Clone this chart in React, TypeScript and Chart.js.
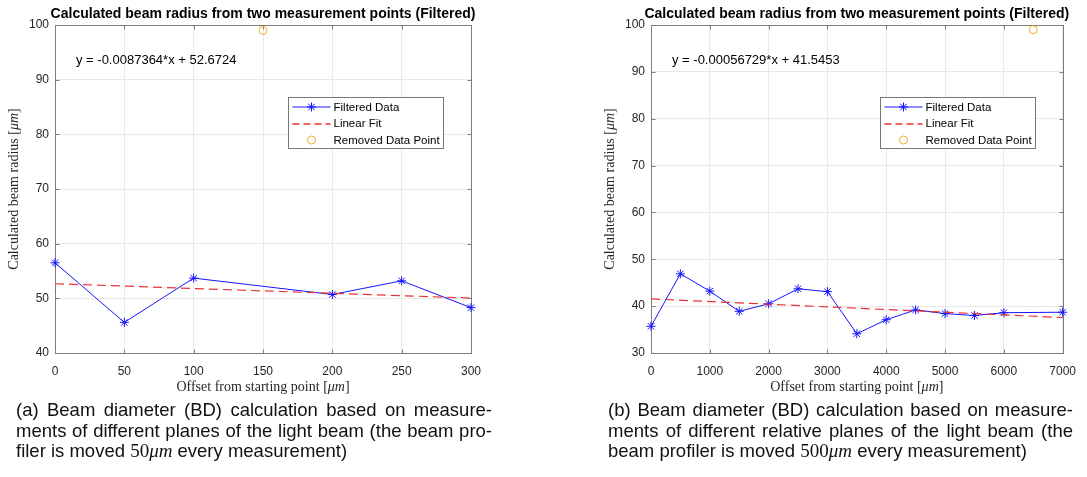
import React, { useEffect, useRef } from 'react';
import { Chart, registerables } from 'chart.js';

Chart.register(...registerables);

// ---------- data ----------
const offsetsA = [0, 50, 100, 200, 250, 300];
const radiusA = [56.5, 45.6, 53.7, 50.7, 53.2, 48.3];
const fitOffsetsA = [0, 300];
const fitRadiusA = [52.67, 50.05];
const removedOffsetsA = [150];
const removedRadiusA = [99];
const xTicksA = [0, 50, 100, 150, 200, 250, 300];
const yTicksA = [40, 50, 60, 70, 80, 90, 100];
const equationA = 'y = -0.0087364*x + 52.6724';

const offsetsB = [0, 500, 1000, 1500, 2000, 2500, 3000, 3500, 4000, 4500, 5000, 5500, 6000, 7000];
const radiusB = [35.7, 46.9, 43.2, 38.9, 40.5, 43.7, 43.1, 34.1, 37.1, 39.2, 38.4, 38.0, 38.6, 38.7];
const fitOffsetsB = [0, 7000];
const fitRadiusB = [41.55, 37.57];
const removedOffsetsB = [6500];
const removedRadiusB = [99];
const xTicksB = [0, 1000, 2000, 3000, 4000, 5000, 6000, 7000];
const yTicksB = [30, 40, 50, 60, 70, 80, 90, 100];
const equationB = 'y = -0.00056729*x + 41.5453';

const titleText = 'Calculated beam radius from two measurement points (Filtered)';
const xLabelText = 'Offset from starting point';
const yLabelText = 'Calculated beam radius';
const unitText = 'μm';
const legendLabels = ['Filtered Data', 'Linear Fit', 'Removed Data Point'];

// ---------- styles ----------
const SANS = '"Liberation Sans", Arial, sans-serif';
const SERIF = '"Liberation Serif", "Times New Roman", serif';
const BLUE = 'rgb(20,20,255)';
const RED = 'rgb(235,50,50)';
const ORANGE = '#EDB120';
const GRID = '#e9e9e9';
const AXIS = '#7d7d7d';
const TICK = '#262626';

type Panel = {
  offsets: number[];
  radius: number[];
  fitOffsets: number[];
  fitRadius: number[];
  removedOffsets: number[];
  removedRadius: number[];
  xTicks: number[];
  yTicks: number[];
  equation: string;
  yAxisWidth: number;
  padRight: number;
};

function drawStar(ctx: CanvasRenderingContext2D, x: number, y: number, r: number) {
  ctx.beginPath();
  for (let k = 0; k < 4; k++) {
    const ang = (k * Math.PI) / 4;
    const dx = Math.cos(ang) * r;
    const dy = Math.sin(ang) * r;
    ctx.moveTo(x - dx, y - dy);
    ctx.lineTo(x + dx, y + dy);
  }
  ctx.stroke();
}

function drawUnitLabel(ctx: CanvasRenderingContext2D, main: string, cx: number, cy: number) {
  const size = 14;
  const parts = [
    { t: main + ' [', f: `${size}px ${SERIF}` },
    { t: unitText, f: `italic ${size}px ${SERIF}` },
    { t: ']', f: `${size}px ${SERIF}` },
  ];
  let total = 0;
  const widths = parts.map((p) => {
    ctx.font = p.f;
    const w = ctx.measureText(p.t).width;
    total += w;
    return w;
  });
  let x = cx - total / 2;
  ctx.textAlign = 'left';
  ctx.textBaseline = 'middle';
  parts.forEach((p, i) => {
    ctx.font = p.f;
    ctx.fillText(p.t, x, cy);
    x += widths[i];
  });
}

function decorPlugin(p: Panel) {
  return {
    id: 'matlabDecor',
    beforeDatasetsDraw(chart: any) {
      const { ctx, chartArea: a, scales } = chart;
      ctx.save();
      ctx.strokeStyle = AXIS;
      ctx.lineWidth = 1;
      const L = Math.round(a.left) + 0.5;
      const R = Math.round(a.right) + 0.5;
      const T = Math.round(a.top) + 0.5;
      const B = Math.round(a.bottom) + 0.5;
      ctx.strokeRect(L, T, R - L, B - T);
      ctx.beginPath();
      p.xTicks.forEach((v) => {
        const px = Math.round(scales.x.getPixelForValue(v)) + 0.5;
        ctx.moveTo(px, B);
        ctx.lineTo(px, B - 4);
        ctx.moveTo(px, T);
        ctx.lineTo(px, T + 4);
      });
      p.yTicks.forEach((v) => {
        const py = Math.round(scales.y.getPixelForValue(v)) + 0.5;
        ctx.moveTo(L, py);
        ctx.lineTo(L + 4, py);
        ctx.moveTo(R, py);
        ctx.lineTo(R - 4, py);
      });
      ctx.stroke();
      ctx.restore();
    },
    afterDatasetsDraw(chart: any) {
      const { ctx, chartArea: a } = chart;
      ctx.save();
      // legend
      const w = 155;
      const h = 51;
      const lx = Math.round(a.right - 28 - w) + 0.5;
      const ly = 97.5;
      ctx.fillStyle = '#ffffff';
      ctx.fillRect(lx, ly, w, h);
      ctx.strokeStyle = '#777777';
      ctx.lineWidth = 1;
      ctx.strokeRect(lx, ly, w, h);
      const rows = [ly + 9.5, ly + 26, ly + 42.5];
      const x1 = lx + 4;
      const x2 = lx + 42;
      const xm = (x1 + x2) / 2;
      // row 1
      ctx.strokeStyle = BLUE;
      ctx.lineWidth = 1;
      ctx.beginPath();
      ctx.moveTo(x1, rows[0]);
      ctx.lineTo(x2, rows[0]);
      ctx.stroke();
      drawStar(ctx, xm, rows[0], 4.5);
      // row 2
      ctx.strokeStyle = RED;
      ctx.lineWidth = 1.4;
      ctx.setLineDash([7, 4]);
      ctx.beginPath();
      ctx.moveTo(x1, Math.round(rows[1]));
      ctx.lineTo(x2, Math.round(rows[1]));
      ctx.stroke();
      ctx.setLineDash([]);
      // row 3
      ctx.strokeStyle = ORANGE;
      ctx.lineWidth = 1;
      ctx.beginPath();
      ctx.arc(xm, rows[2], 4, 0, Math.PI * 2);
      ctx.stroke();
      ctx.fillStyle = '#000000';
      ctx.font = `11.5px ${SANS}`;
      ctx.textAlign = 'left';
      ctx.textBaseline = 'middle';
      legendLabels.forEach((t, i) => ctx.fillText(t, lx + 45, rows[i] + 0.5));
      ctx.restore();
    },
    afterDraw(chart: any) {
      const { ctx, chartArea: a } = chart;
      ctx.save();
      const cx = (a.left + a.right) / 2;
      ctx.fillStyle = '#000000';
      ctx.font = `bold 14px ${SANS}`;
      ctx.textAlign = 'center';
      ctx.textBaseline = 'middle';
      ctx.fillText(titleText, cx, 14);
      // equation
      ctx.font = `13px ${SANS}`;
      ctx.textAlign = 'left';
      ctx.fillText(p.equation, a.left + 21, 60);
      // axis labels
      ctx.fillStyle = TICK;
      drawUnitLabel(ctx, xLabelText, cx, 387);
      ctx.translate(a.left - 41, (a.top + a.bottom) / 2);
      ctx.rotate(-Math.PI / 2);
      drawUnitLabel(ctx, yLabelText, 0, 0);
      ctx.restore();
    },
  };
}

function buildConfig(p: Panel): any {
  return {
    type: 'line',
    data: {
      datasets: [
        {
          label: legendLabels[1],
          data: p.fitOffsets.map((x, i) => ({ x, y: p.fitRadius[i] })),
          borderColor: RED,
          borderWidth: 1.2,
          borderDash: [9, 5],
          pointRadius: 0,
          fill: false,
          clip: false,
        },
        {
          label: legendLabels[0],
          data: p.offsets.map((x, i) => ({ x, y: p.radius[i] })),
          borderColor: BLUE,
          backgroundColor: BLUE,
          borderWidth: 1,
          pointStyle: 'star',
          pointRadius: 4.5,
          pointBorderWidth: 1,
          pointBorderColor: BLUE,
          fill: false,
          tension: 0,
          clip: false,
        },
        {
          label: legendLabels[2],
          data: p.removedOffsets.map((x, i) => ({ x, y: p.removedRadius[i] })),
          showLine: false,
          pointStyle: 'circle',
          pointRadius: 4,
          pointBorderWidth: 1,
          pointBorderColor: ORANGE,
          pointBackgroundColor: 'rgba(0,0,0,0)',
          borderColor: ORANGE,
          backgroundColor: 'rgba(0,0,0,0)',
          clip: false,
        },
      ],
    },
    options: {
      animation: false,
      responsive: false,
      events: [],
      layout: { padding: { left: 0, top: 25, right: p.padRight, bottom: 0 } },
      plugins: {
        legend: { display: false },
        tooltip: { enabled: false },
        title: { display: false },
      },
      scales: {
        x: {
          type: 'linear',
          min: p.xTicks[0],
          max: p.xTicks[p.xTicks.length - 1],
          afterBuildTicks: (s: any) => {
            s.ticks = p.xTicks.map((v) => ({ value: v }));
          },
          afterFit: (s: any) => {
            s.height = 47;
          },
          grid: { color: GRID, drawTicks: false },
          border: { display: false },
          ticks: {
            font: { family: SANS, size: 12 },
            color: TICK,
            padding: 11,
            maxRotation: 0,
            autoSkip: false,
            callback: (v: any) => String(v),
          },
        },
        y: {
          type: 'linear',
          min: p.yTicks[0],
          max: p.yTicks[p.yTicks.length - 1],
          afterBuildTicks: (s: any) => {
            s.ticks = p.yTicks.map((v) => ({ value: v }));
          },
          afterFit: (s: any) => {
            s.width = p.yAxisWidth;
          },
          grid: { color: GRID, drawTicks: false },
          border: { display: false },
          ticks: {
            font: { family: SANS, size: 12 },
            color: TICK,
            padding: 6,
            autoSkip: false,
            callback: (v: any) => String(v),
          },
        },
      },
    },
    plugins: [decorPlugin(p)],
  };
}

const panelA: Panel = {
  offsets: offsetsA,
  radius: radiusA,
  fitOffsets: fitOffsetsA,
  fitRadius: fitRadiusA,
  removedOffsets: removedOffsetsA,
  removedRadius: removedRadiusA,
  xTicks: xTicksA,
  yTicks: yTicksA,
  equation: equationA,
  yAxisWidth: 55,
  padRight: 69,
};

const panelB: Panel = {
  offsets: offsetsB,
  radius: radiusB,
  fitOffsets: fitOffsetsB,
  fitRadius: fitRadiusB,
  removedOffsets: removedOffsetsB,
  removedRadius: removedRadiusB,
  xTicks: xTicksB,
  yTicks: yTicksB,
  equation: equationB,
  yAxisWidth: 111,
  padRight: 19,
};

function ChartCanvas({ panel, left, width }: { panel: Panel; left: number; width: number }) {
  const ref = useRef<HTMLCanvasElement | null>(null);
  useEffect(() => {
    if (!ref.current) return;
    const chart = new Chart(ref.current, buildConfig(panel));
    return () => chart.destroy();
  }, [panel]);
  return (
    <canvas
      ref={ref}
      width={width}
      height={400}
      style={{ position: 'absolute', left, top: 0, width, height: 400 }}
    />
  );
}

const captionStyle: React.CSSProperties = {
  position: 'absolute',
  top: 400,
  fontFamily: SANS,
  fontSize: 18.5,
  lineHeight: '20.5px',
  color: '#111111',
};
const justified: React.CSSProperties = { textAlign: 'justify', textAlignLast: 'justify', whiteSpace: 'nowrap' };
const mathStyle: React.CSSProperties = { fontFamily: SERIF, fontSize: 19 };

export default function App() {
  return (
    <div style={{ position: 'relative', width: 1087, height: 477, background: '#ffffff', overflow: 'hidden' }}>
      <style>{'body{margin:0;background:#fff}'}</style>
      <ChartCanvas panel={panelA} left={0} width={540} />
      <ChartCanvas panel={panelB} left={540} width={547} />
      <div style={{ ...captionStyle, left: 16, width: 476 }}>
        <div style={justified}>(a) Beam diameter (BD) calculation based on measure-</div>
        <div style={justified}>ments of different planes of the light beam (the beam pro-</div>
        <div>
          filer is moved <span style={mathStyle}>50<i>μm</i></span> every measurement)
        </div>
      </div>
      <div style={{ ...captionStyle, left: 608, width: 465 }}>
        <div style={justified}>(b) Beam diameter (BD) calculation based on measure-</div>
        <div style={justified}>ments of different relative planes of the light beam (the</div>
        <div>
          beam profiler is moved <span style={mathStyle}>500<i>μm</i></span> every measurement)
        </div>
      </div>
    </div>
  );
}
